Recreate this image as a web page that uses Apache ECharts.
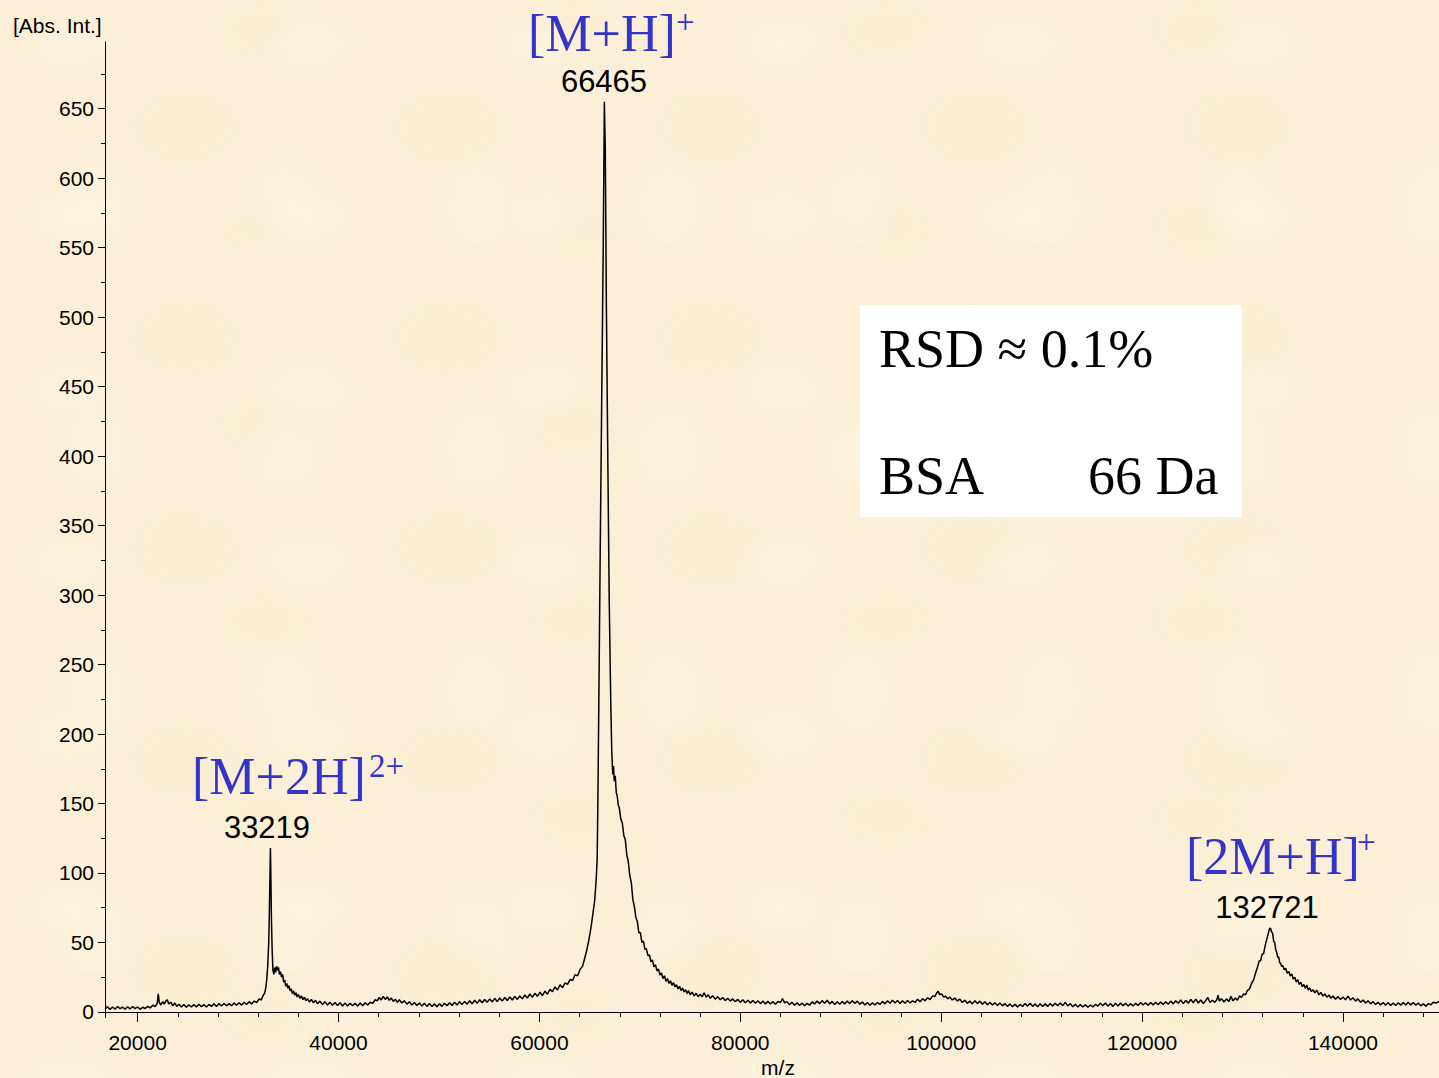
<!DOCTYPE html>
<html>
<head>
<meta charset="utf-8">
<script src="https://cdn.jsdelivr.net/npm/echarts@6/dist/echarts.min.js"></script>
<style>
html,body{margin:0;padding:0;width:1439px;height:1078px;overflow:hidden;}
body{
  background-color:#fbf0d7;
  background-image:
    radial-gradient(ellipse 70px 45px at 30% 25%, rgba(255,248,232,0.45), rgba(255,248,232,0) 70%),
    radial-gradient(ellipse 90px 60px at 70% 60%, rgba(246,232,203,0.4), rgba(246,232,203,0) 70%),
    radial-gradient(ellipse 60px 80px at 50% 85%, rgba(255,247,230,0.4), rgba(255,247,230,0) 70%),
    radial-gradient(ellipse 80px 50px at 85% 15%, rgba(247,234,206,0.35), rgba(247,234,206,0) 70%);
  background-size:237px 173px, 263px 211px, 191px 243px, 311px 197px;
}
#chart{width:1439px;height:1078px;}
</style>
</head>
<body>
<div id="chart"></div>
<script>
// ---- data ----
const xMajorTicks = [20000, 40000, 60000, 80000, 100000, 120000, 140000];
const xMinorTicks = [24000, 28000, 32000, 36000, 44000, 48000, 52000, 56000, 64000, 68000, 72000, 76000,
  84000, 88000, 92000, 96000, 104000, 108000, 112000, 116000, 124000, 128000, 132000, 136000, 144000, 148000];
const yMajorTicks = [0, 50, 100, 150, 200, 250, 300, 350, 400, 450, 500, 550, 600, 650];
const yMinorTicks = [25, 75, 125, 175, 225, 275, 325, 375, 425, 475, 525, 575, 625, 675];

const peakIons = ["[M+2H]", "[M+H]", "[2M+H]"];
const peakCharges = ["2+", "+", "+"];
const peakMasses = ["33219", "66465", "132721"];
const infoLines = ["RSD \u2248 0.1%", "BSA", "66 Da"];
const xAxisTitle = "m/z";
const yAxisTitle = "[Abs. Int.]";

// spectrum: [m/z, intensity]
const spectrum = [
[16750,2.2],[17000,3.8],[17250,1.8],[17500,3.6],[17750,2.0],[18000,3.9],[18250,2.3],[18500,3.5],[18750,1.9],[19000,3.7],
[19250,2.1],[19500,3.9],[19750,2.4],[20000,3.6],[20250,1.9],[20500,3.4],[20750,2.5],[21000,4.0],[21250,2.9],[21500,4.8],
[21750,3.9],[21950,6.2],[22050,13.0],[22150,7.0],[22300,5.0],[22500,7.4],[22650,5.6],[22800,7.8],[22950,8.8],[23100,5.8],
[23300,7.0],[23500,4.6],[23700,6.4],[23900,4.0],[24100,5.6],[24350,3.6],[24600,5.4],[24850,3.4],[25100,5.2],[25350,3.5],
[25600,5.3],[25850,3.6],[26100,5.6],[26350,3.8],[26600,5.2],[26850,3.5],[27100,5.4],[27350,4.0],[27600,5.9],[27850,3.9],
[28100,6.0],[28350,4.3],[28600,6.1],[28850,4.4],[29100,6.0],[29350,4.5],[29600,6.5],[29850,4.8],[30100,6.6],[30350,4.9],
[30600,7.0],[30850,5.4],[31100,7.4],[31350,5.8],[31600,7.8],[31850,6.8],[32100,9.4],[32300,8.6],[32500,12.0],[32650,13.5],
[32750,17],[32850,23],[32950,33],[33050,50],[33120,75],[33180,102],[33219,118],[33260,100],[33320,66],[33390,45],
[33470,30],[33560,27],[33650,32],[33740,28.5],[33830,33],[33920,30],[34020,32],[34120,27],[34220,29],[34330,25],
[34440,27],[34540,21.5],[34640,23],[34740,18.5],[34850,20.5],[34950,17],[35060,19],[35170,15.2],[35280,16.8],[35400,13.2],
[35520,15.2],[35640,12],[35760,13.8],[35880,10.8],[36000,12.6],[36150,9.8],[36300,11.6],[36450,8.8],[36600,10.6],[36750,8.0],
[36900,9.6],[37100,7.2],[37300,9.0],[37500,6.5],[37700,8.4],[37900,6.0],[38150,7.8],[38400,5.4],[38650,7.3],[38900,5.0],
[39150,7.0],[39400,4.8],[39650,6.8],[39900,4.6],[40150,6.6],[40400,4.3],[40650,6.4],[40900,4.2],[41150,6.2],[41400,4.4],
[41650,6.3],[41900,4.2],[42150,6.4],[42400,4.5],[42650,6.6],[42900,5.0],[43150,7.0],[43400,6.2],[43650,8.8],[43850,8.0],
[44050,10.4],[44250,8.6],[44450,11.2],[44650,9.0],[44850,10.8],[45050,8.4],[45250,10.0],[45450,7.6],[45650,9.2],[45850,7.0],
[46050,8.8],[46300,6.4],[46550,8.0],[46800,5.6],[47050,7.4],[47300,5.0],[47550,6.8],[47800,4.6],[48050,6.4],[48300,4.2],
[48550,6.2],[48800,4.0],[49050,6.0],[49300,3.9],[49550,5.8],[49800,3.8],[50050,5.9],[50300,4.0],[50550,6.2],[50800,4.4],
[51050,6.6],[51300,4.6],[51550,7.0],[51800,5.0],[52050,7.4],[52300,5.3],[52550,7.6],[52800,5.6],[53050,8.0],[53300,5.9],
[53550,8.4],[53800,6.2],[54050,8.8],[54300,6.6],[54550,9.0],[54800,6.9],[55050,9.4],[55300,7.2],[55550,9.8],[55800,7.4],
[56050,10.0],[56300,7.8],[56550,10.4],[56800,8.2],[57050,10.8],[57300,8.6],[57550,11.2],[57800,9.0],[58050,11.5],[58300,9.4],
[58550,12.2],[58800,10.0],[59050,13.0],[59300,10.6],[59550,13.4],[59800,11.2],[60050,14.2],[60300,11.8],[60550,15.0],[60800,12.8],
[61050,16.2],[61300,14.6],[61550,18.0],[61800,15.8],[62050,19.6],[62300,17.4],[62550,21.0],[62800,19.8],[63050,23.4],[63300,22.6],
[63550,26.8],[63800,26.0],[64050,30.6],[64300,33.0],[64500,38.5],[64700,44.0],[64900,51.0],[65050,57.0],[65200,64.0],[65350,72.0],
[65500,80.0],[65650,95.0],[65750,110.0],[65820,152],[65950,250],[66050,330],[66200,440],[66350,548],[66465,655],[66560,620],
[66660,512],[66800,404],[66950,296],[67100,224],[67200,188],[67300,171],[67380,177],[67450,166],[67550,170],[67650,158],
[67750,155],[67850,149],[67950,147],[68100,139],[68250,136],[68400,127],[68550,124],[68700,113],[68850,108],[69000,98],
[69150,93],[69300,81],[69450,76],[69600,68],[69750,65],[69900,57],[70050,57],[70200,50],[70350,51],[70500,45],
[70650,45.5],[70800,40.5],[70950,41],[71100,36],[71250,37.5],[71400,32.5],[71550,34],[71700,29.5],[71850,31],[72000,26.5],
[72150,28],[72300,24],[72450,26],[72600,22],[72750,24],[72900,20.5],[73050,22.4],[73200,19.2],[73350,21.0],[73500,18.0],
[73650,19.6],[73800,16.6],[73950,18.4],[74100,15.4],[74250,17.2],[74400,14.4],[74550,16.0],[74700,13.2],[74850,15.4],[75000,12.4],
[75200,14.2],[75400,11.6],[75600,13.4],[75800,11.0],[76000,12.8],[76200,10.8],[76400,13.8],[76600,10.6],[76800,12.4],[77000,9.8],
[77250,11.6],[77500,9.2],[77750,11.0],[78000,8.8],[78250,10.4],[78500,8.2],[78750,9.8],[79000,7.8],[79250,9.4],[79500,7.4],
[79750,9.0],[80000,7.0],[80250,8.8],[80500,6.6],[80750,8.4],[81000,6.4],[81250,8.2],[81500,6.2],[81750,8.0],[82000,6.0],
[82250,7.8],[82500,5.8],[82750,7.6],[83000,5.7],[83250,7.4],[83500,5.6],[83750,7.6],[84000,6.8],[84200,9.6],[84400,6.6],
[84650,7.4],[84900,5.2],[85150,7.0],[85400,4.8],[85650,6.6],[85900,4.6],[86150,6.4],[86400,4.4],[86650,6.2],[86900,4.8],
[87150,7.2],[87400,5.8],[87650,7.8],[87900,6.0],[88150,8.2],[88400,6.2],[88650,8.4],[88900,5.8],[89150,7.6],[89400,5.4],
[89650,7.4],[89900,5.6],[90150,7.6],[90400,5.8],[90650,7.8],[90900,6.0],[91150,8.0],[91400,6.2],[91650,7.8],[91900,5.6],
[92150,7.2],[92400,5.0],[92650,6.8],[92900,4.8],[93150,6.6],[93400,5.0],[93650,6.8],[93900,5.4],[94150,7.6],[94400,5.8],
[94650,8.0],[94900,6.2],[95150,8.4],[95400,6.4],[95650,8.2],[95900,6.0],[96150,8.0],[96400,6.2],[96650,8.2],[96900,6.4],
[97150,8.0],[97400,6.8],[97650,9.2],[97900,7.4],[98150,9.6],[98400,8.0],[98650,10.2],[98900,8.8],[99150,11.6],[99350,11.0],
[99550,13.6],[99700,14.8],[99850,12.4],[100050,13.0],[100250,10.6],[100450,11.4],[100650,9.4],[100850,10.8],[101100,8.6],[101350,10.0],
[101600,7.8],[101850,9.2],[102100,6.8],[102350,8.4],[102600,6.2],[102850,7.8],[103100,5.8],[103350,8.0],[103600,6.0],[103850,7.8],
[104100,5.6],[104350,7.4],[104600,5.2],[104850,7.0],[105100,5.0],[105350,6.6],[105600,4.6],[105850,6.4],[106100,4.4],[106350,6.0],
[106600,4.0],[106850,5.8],[107100,3.8],[107350,5.6],[107600,3.6],[107850,5.4],[108100,3.9],[108350,6.0],[108600,4.2],[108850,6.2],
[109100,4.0],[109350,5.8],[109600,3.8],[109850,5.9],[110100,3.9],[110350,5.8],[110600,4.0],[110850,6.0],[111100,4.2],[111350,6.2],
[111600,4.4],[111850,6.4],[112100,4.6],[112350,6.8],[112600,4.4],[112850,6.0],[113100,3.8],[113350,5.6],[113600,3.6],[113850,5.4],
[114100,3.5],[114350,5.2],[114600,3.4],[114850,5.0],[115100,3.6],[115350,5.4],[115600,4.2],[115850,6.2],[116100,4.4],[116350,6.4],
[116600,4.2],[116850,6.0],[117100,4.0],[117350,6.2],[117600,4.2],[117850,6.4],[118100,4.4],[118350,6.2],[118600,4.2],[118850,6.0],
[119100,4.3],[119350,6.2],[119600,4.6],[119850,6.8],[120100,5.0],[120350,6.6],[120600,4.8],[120850,6.8],[121100,5.0],[121350,7.0],
[121600,5.2],[121850,7.2],[122100,5.4],[122350,7.4],[122600,5.6],[122850,7.8],[123100,5.8],[123350,8.0],[123600,6.2],[123850,8.6],
[124100,6.0],[124350,8.2],[124600,6.2],[124850,9.0],[125100,6.6],[125350,9.2],[125600,6.4],[125850,8.6],[126100,6.0],[126350,8.4],
[126550,10.4],[126750,6.8],[127000,8.4],[127250,6.9],[127450,9.0],[127550,12.0],[127700,7.8],[127900,9.6],[128150,7.2],[128400,9.4],
[128650,7.6],[128850,11.2],[129050,8.0],[129300,10.0],[129500,8.4],[129700,11.6],[129900,10.4],[130100,13.0],[130300,12.4],[130500,15.6],
[130700,16.6],[130900,20.6],[131100,23.0],[131300,28.0],[131500,32.5],[131650,36.5],[131800,37.0],[131950,41.5],[132100,42],[132250,47.5],
[132400,52],[132550,56],[132650,59],[132721,60.4],[132800,59.8],[132900,57.5],[133000,56.5],[133100,51],[133200,50],[133300,45],
[133400,43],[133500,39.2],[133600,39.6],[133700,35.4],[133800,35.0],[133900,32.6],[134000,33.5],[134150,30.4],[134300,31.4],[134450,27.8],
[134600,29.2],[134750,25.8],[134900,27.4],[135050,23.6],[135200,25.0],[135350,21.6],[135500,23.2],[135650,19.8],[135800,21.4],[135950,18.2],
[136100,19.8],[136250,17.0],[136400,19.4],[136550,15.8],[136700,17.2],[136850,14.6],[137000,16.0],[137200,13.8],[137400,15.6],[137600,12.4],
[137800,14.0],[138000,11.4],[138200,13.0],[138400,10.6],[138600,12.2],[138800,9.8],[139000,11.4],[139250,9.2],[139500,11.0],[139750,9.0],
[140000,10.8],[140250,8.8],[140500,11.4],[140750,8.6],[141000,10.2],[141250,7.8],[141500,9.4],[141750,7.0],[142000,8.6],[142250,6.4],
[142500,8.0],[142750,5.8],[143000,7.4],[143250,5.4],[143500,7.0],[143750,5.0],[144000,6.8],[144250,4.8],[144500,6.6],[144750,4.7],
[145000,6.4],[145250,4.6],[145500,6.6],[145750,4.8],[146000,6.8],[146250,5.0],[146500,7.0],[146750,5.0],[147000,6.8],[147250,4.8],
[147500,6.4],[147750,4.4],[148000,5.8],[148250,4.2],[148500,6.0],[148750,5.2],[149000,7.0],[149250,6.4],[149560,7.6]
];

// ---- chart ----
const chart = echarts.init(document.getElementById('chart'), null, {renderer: 'svg'});
const axisFont = 'Liberation Sans, Arial, sans-serif';
const serif = 'Liberation Serif, Times New Roman, serif';
const blue = '#3434c8';
const X_MIN = 16750, X_MAX = 149560, Y_MIN = -4, Y_MAX = 698;

function ionLabel(i, x, y, sx, sy) {
  return [
    {type: 'text', x: x, y: y, style: {text: peakIons[i], font: '52px ' + serif, fill: blue, align: 'left', verticalAlign: 'middle'}},
    {type: 'text', x: sx, y: sy, style: {text: peakCharges[i], font: '33px ' + serif, fill: blue, align: 'left', verticalAlign: 'middle'}}
  ];
}
function massLabel(i, x, y) {
  return {type: 'text', x: x, y: y, style: {text: peakMasses[i], font: '31px ' + axisFont, fill: '#000', align: 'center', verticalAlign: 'middle'}};
}
const plain = v => String(v);

const option = {
  animation: false,
  backgroundColor: 'transparent',
  grid: {left: 105, right: 0, top: 42, bottom: 60.5, containLabel: false},
  xAxis: [
    {type: 'value', min: X_MIN, max: X_MAX, position: 'bottom',
     axisLine: {show: true, lineStyle: {color: '#000', width: 1}},
     axisTick: {show: true, length: 10, customValues: xMajorTicks, lineStyle: {color: '#000', width: 1}},
     axisLabel: {show: true, customValues: xMajorTicks, formatter: plain, margin: 14, color: '#000', fontSize: 21, fontFamily: axisFont},
     splitLine: {show: false}},
    {type: 'value', min: X_MIN, max: X_MAX, position: 'bottom',
     axisLine: {show: false},
     axisTick: {show: true, length: 5, customValues: xMinorTicks, lineStyle: {color: '#000', width: 1}},
     axisLabel: {show: false},
     splitLine: {show: false}}
  ],
  yAxis: [
    {type: 'value', min: Y_MIN, max: Y_MAX, position: 'left',
     axisLine: {show: true, lineStyle: {color: '#000', width: 1}},
     axisTick: {show: true, length: 7, customValues: yMajorTicks, lineStyle: {color: '#000', width: 1}},
     axisLabel: {show: true, customValues: yMajorTicks, formatter: plain, margin: 11, color: '#000', fontSize: 21, fontFamily: axisFont},
     splitLine: {show: false}},
    {type: 'value', min: Y_MIN, max: Y_MAX, position: 'left',
     axisLine: {show: false},
     axisTick: {show: true, length: 4, customValues: yMinorTicks, lineStyle: {color: '#000', width: 1}},
     axisLabel: {show: false},
     splitLine: {show: false}}
  ],
  series: [{
    type: 'line',
    data: spectrum,
    xAxisIndex: 0, yAxisIndex: 0,
    showSymbol: false,
    symbol: 'none',
    lineStyle: {color: '#000', width: 1.5},
    z: 3
  }],
  graphic: [
    {type: 'rect', shape: {x: 860, y: 305, width: 382, height: 212}, style: {fill: '#ffffff'}, z: 1},
    {type: 'text', x: 879, y: 349, style: {text: infoLines[0], font: '54px ' + serif, fill: '#000', align: 'left', verticalAlign: 'middle'}, z: 2},
    {type: 'text', x: 879, y: 476, style: {text: infoLines[1], font: '54px ' + serif, fill: '#000', align: 'left', verticalAlign: 'middle'}, z: 2},
    {type: 'text', x: 1088, y: 476, style: {text: infoLines[2], font: '54px ' + serif, fill: '#000', align: 'left', verticalAlign: 'middle'}, z: 2},
    ...ionLabel(1, 528, 33, 676, 22),
    ...ionLabel(0, 192, 776, 369, 766),
    ...ionLabel(2, 1186, 856, 1357, 842),
    massLabel(1, 604, 81),
    massLabel(0, 267, 827),
    massLabel(2, 1267, 907),
    {type: 'text', x: 778, y: 1067, style: {text: xAxisTitle, font: '21px ' + axisFont, fill: '#000', align: 'center', verticalAlign: 'middle'}},
    {type: 'text', x: 13, y: 25, style: {text: yAxisTitle, font: '21px ' + axisFont, fill: '#000', align: 'left', verticalAlign: 'middle'}}
  ]
};
chart.setOption(option);
</script>
</body>
</html>
